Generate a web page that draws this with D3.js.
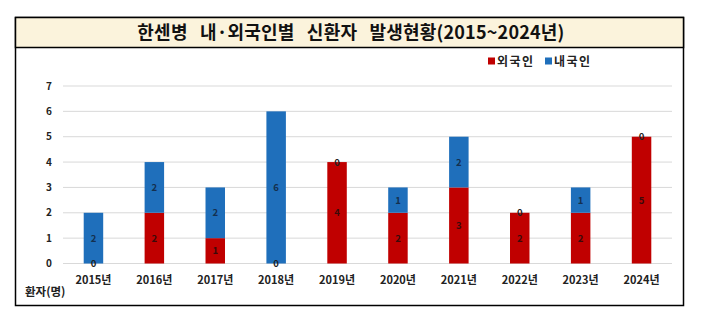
<!DOCTYPE html>
<html>
<head>
<meta charset="utf-8">
<script src="https://cdn.jsdelivr.net/npm/d3@7"></script>
<style>
  body { margin: 0; background: #fff; }
  svg text { font-family: "Noto Sans CJK KR", "Noto Sans", sans-serif; }
</style>
</head>
<body>
<div id="chart"></div>
<script>
var width_chart = 714,
    height_chart = 318;

var title = "한센병 내·외국인별 신환자 발생현황(2015~2024년)";
var years = ["2015년", "2016년", "2017년", "2018년", "2019년", "2020년", "2021년", "2022년", "2023년", "2024년"];
var foreign = [0, 2, 1, 0, 4, 2, 3, 2, 2, 5];
var domestic = [2, 2, 2, 6, 0, 1, 2, 0, 1, 0];
var yTicks = [0, 1, 2, 3, 4, 5, 6, 7];
var seriesNames = ["외국인", "내국인"];

var color_red = "#c00000";
var color_blue = "#1f6fbb";

var svg = d3.select("#chart").append("svg")
    .attr("width", width_chart)
    .attr("height", height_chart);

// outer box + title band
svg.append("rect")
    .attr("x", 15.5).attr("y", 17.5)
    .attr("width", 668).attr("height", 288)
    .attr("fill", "#fff")
    .attr("stroke", "#000").attr("stroke-width", 1.5);

svg.append("rect")
    .attr("x", 15.5).attr("y", 17.5)
    .attr("width", 668).attr("height", 30)
    .attr("fill", "#fbf3dc")
    .attr("stroke", "#000").attr("stroke-width", 1.5);

svg.append("text")
    .attr("x", 351).attr("y", 38.5)
    .attr("text-anchor", "middle")
    .style("font-size", "18px")
    .style("font-weight", "bold")
    .style("word-spacing", "8px")
    .style("letter-spacing", "0.2px")
    .attr("fill", "#111")
    .text(title);

var x = d3.scaleBand()
    .domain(years)
    .range([63, 672])
    .paddingInner(0.68)
    .paddingOuter(0.34);

var y = d3.scaleLinear()
    .domain([0, 7])
    .range([263.5, 86]);

// gridlines
svg.append("g").selectAll("line")
    .data(yTicks)
    .enter().append("line")
    .attr("x1", 63).attr("x2", 672)
    .attr("y1", function(d) { return y(d); })
    .attr("y2", function(d) { return y(d); })
    .attr("stroke", "#d9d9d9")
    .attr("stroke-width", 1);

// y axis labels
var yAxis = d3.axisLeft(y).tickValues(yTicks).tickFormat(d3.format("d")).tickSize(0).tickPadding(0);
var gy = svg.append("g")
    .attr("transform", "translate(52,0)")
    .call(yAxis);
gy.select(".domain").remove();
gy.selectAll("text")
    .attr("text-anchor", "middle")
    .attr("x", -3)
    .style("font-size", "10px")
    .style("font-weight", "bold")
    .attr("fill", "#222");

// x axis labels
var xAxis = d3.axisBottom(x).tickSize(0).tickPadding(0);
var gx = svg.append("g")
    .attr("transform", "translate(0,276)")
    .call(xAxis);
gx.select(".domain").remove();
gx.selectAll("text")
    .style("font-size", "11px")
    .style("font-weight", "bold")
    .attr("fill", "#222");

svg.append("text")
    .attr("x", 25).attr("y", 296)
    .style("font-size", "11.5px")
    .style("font-weight", "bold")
    .attr("fill", "#222")
    .text("환자(명)");

// stacked bars
var rows = years.map(function(yr, i) {
    return { year: yr, foreign: foreign[i], domestic: domestic[i] };
});
var stack = d3.stack().keys(["foreign", "domestic"]);
var stacked = stack(rows);
var colors = { foreign: color_red, domestic: color_blue };
var labelColors = { foreign: "#3b0a0a", domestic: "#14304f" };

var groups = svg.append("g").selectAll("g")
    .data(stacked)
    .enter().append("g")
    .attr("fill", function(d) { return colors[d.key]; });

groups.selectAll("rect")
    .data(function(d) { return d; })
    .enter().append("rect")
    .attr("x", function(d) { return x(d.data.year); })
    .attr("y", function(d) { return y(d[1]); })
    .attr("width", x.bandwidth())
    .attr("height", function(d) { return y(d[0]) - y(d[1]); });

// value labels
stacked.forEach(function(s) {
    svg.append("g").selectAll("text")
        .data(s)
        .enter().append("text")
        .attr("x", function(d) { return x(d.data.year) + x.bandwidth() / 2; })
        .attr("y", function(d) { return y((d[0] + d[1]) / 2) + 3.5; })
        .attr("text-anchor", "middle")
        .style("font-size", "9.5px")
        .style("font-weight", "bold")
        .attr("fill", function(d) { return (d[1] - d[0]) == 0 ? "#222" : labelColors[s.key]; })
        .text(function(d) { return d[1] - d[0]; });
});

// legend
var legend = svg.append("g").attr("transform", "translate(488,61)");
var legendX = [0, 57];
seriesNames.forEach(function(n, i) {
    legend.append("rect")
        .attr("x", legendX[i]).attr("y", -3.5)
        .attr("width", 7).attr("height", 7)
        .attr("fill", i == 0 ? color_red : color_blue);
    legend.append("text")
        .attr("x", legendX[i] + 9).attr("y", 4.5)
        .style("font-size", "12px")
        .style("font-weight", "bold")
        .style("letter-spacing", "1.5px")
        .attr("fill", "#222")
        .text(n);
});
</script>
</body>
</html>
